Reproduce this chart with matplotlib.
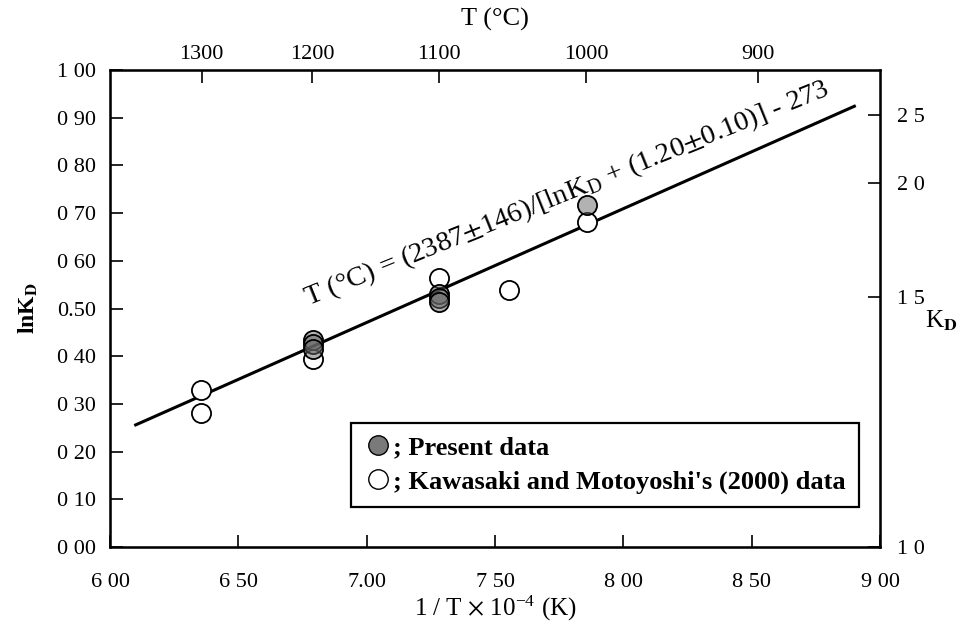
import numpy as np
import matplotlib.pyplot as plt
from matplotlib.lines import Line2D

plt.rcParams["font.family"] = ["Liberation Serif", "DejaVu Serif"]
plt.rcParams["mathtext.fontset"] = "stix"

# data (x = 1/T x 10^4, y = lnKD)
present_x = [6.79, 6.79, 6.79, 7.28, 7.28, 7.28, 7.86]
present_y = [0.435, 0.425, 0.415, 0.530, 0.521, 0.513, 0.717]

kawasaki_x = [6.355, 6.355, 6.79, 7.28, 7.555, 7.86]
kawasaki_y = [0.329, 0.281, 0.394, 0.564, 0.539, 0.681]

# fitted line end points
fit_x = [6.10, 8.90]
fit_y = [0.256, 0.924]

# axes ticks
x_ticks = [6.0, 6.5, 7.0, 7.5, 8.0, 8.5, 9.0]
x_ticklabels = ["6 00", "6 50", "7.00", "7 50", "8 00", "8 50", "9 00"]
y_ticks = [0.0, 0.1, 0.2, 0.3, 0.4, 0.5, 0.6, 0.7, 0.8, 0.9, 1.0]
y_ticklabels = ["0 00", "0 10", "0 20", "0 30", "0 40", "0.50",
                "0 60", "0 70", "0 80", "0 90", "1 00"]
celsius = [1300, 1200, 1100, 1000, 900]
kd_ticks = [0.0, 0.524, 0.763, 0.906]
kd_ticklabels = ["1 0", "1 5", "2 0", "2 5"]

fig = plt.figure(figsize=(9.6, 6.3), dpi=100)
ax = fig.add_axes([0.1146, 0.1317, 0.8021, 0.7572])

ax.plot(fit_x, fit_y, color="black", lw=2.2, zorder=2)

ax.scatter(kawasaki_x, kawasaki_y, s=190, facecolor="white",
           edgecolor="black", linewidth=1.3, zorder=3)
ax.scatter(present_x, present_y, s=190, facecolor=(0.4, 0.4, 0.4, 0.5),
           edgecolor="black", linewidth=1.3, zorder=4)

ax.text(7.78, 0.74,
        "T (°C) = (2387$\\pm$146)/[lnK$_\\mathregular{D}$ + (1.20$\\pm$0.10)] - 273",
        rotation=22, rotation_mode="anchor", ha="center", va="center",
        fontsize=20.5)

ax.set_xlim(6.0, 9.0)
ax.set_ylim(0.0, 1.0)
ax.set_xticks(x_ticks)
ax.set_xticklabels(x_ticklabels)
ax.set_yticks(y_ticks)
ax.set_yticklabels(y_ticklabels)
ax.tick_params(direction="in", length=9, width=1.2, labelsize=16, pad=10)
ax.tick_params(axis="x", pad=19)
for s in ax.spines.values():
    s.set_linewidth(1.8)

ax.set_xlabel("1 / T $\\times$ 10$^{\\mathregular{-4}}$ (K)", fontsize=18, labelpad=1)
ax.set_ylabel("lnK$_\\mathbf{D}$", fontsize=17, fontweight="bold", labelpad=12)

# top axis: temperature in Celsius
top = ax.twiny()
top.set_xlim(ax.get_xlim())
top.set_xticks([1e4 / (t + 273) for t in celsius])
top.set_xticklabels([str(t) for t in celsius])
top.tick_params(direction="in", length=9, width=1.2, labelsize=16, pad=4)
top.set_xlabel("T (°C)", fontsize=19, labelpad=14)

# right axis: KD
right = ax.twinx()
right.set_ylim(ax.get_ylim())
right.set_yticks(kd_ticks)
right.set_yticklabels(kd_ticklabels)
right.tick_params(direction="in", length=9, width=1.2, labelsize=16, pad=12)
right.set_ylabel("K$_\\mathbf{D}$", fontsize=18, rotation=0, ha="left", va="center")
right.yaxis.set_label_coords(1.058, 0.475)

handles = [
    Line2D([], [], marker="o", ls="none", markersize=14,
           markerfacecolor="#7a7a7a", markeredgecolor="black"),
    Line2D([], [], marker="o", ls="none", markersize=14,
           markerfacecolor="white", markeredgecolor="black"),
]
leg = ax.legend(handles, ["; Present data", "; Kawasaki and Motoyoshi's (2000) data"],
                loc="lower right", bbox_to_anchor=(0.973, 0.084), borderaxespad=0,
                prop={"family": "Liberation Serif", "weight": "bold", "size": 19},
                handletextpad=0.1, handlelength=1.0, borderpad=0.5,
                labelspacing=0.4, fancybox=False, framealpha=1)
leg.get_frame().set_edgecolor("black")
leg.get_frame().set_linewidth(1.6)

fig.savefig("out.png", dpi=100)
